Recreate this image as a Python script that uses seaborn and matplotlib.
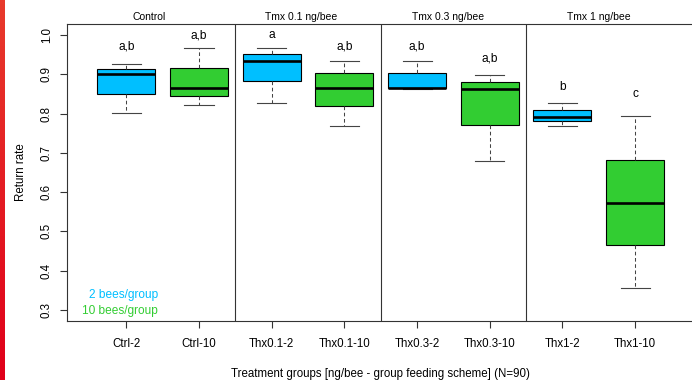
import numpy as np
import pandas as pd
import seaborn as sns
import matplotlib.pyplot as plt
from matplotlib.colors import LinearSegmentedColormap

# five-number summaries (return rate)
groups = ['Ctrl-2', 'Ctrl-10', 'Thx0.1-2', 'Thx0.1-10',
          'Thx0.3-2', 'Thx0.3-10', 'Thx1-2', 'Thx1-10']
whisker_low = [0.801, 0.821, 0.828, 0.768, 0.863, 0.679, 0.768, 0.356]
q1 = [0.851, 0.845, 0.882, 0.818, 0.864, 0.771, 0.781, 0.466]
median = [0.901, 0.866, 0.934, 0.866, 0.865, 0.863, 0.792, 0.572]
q3 = [0.913, 0.916, 0.951, 0.902, 0.902, 0.880, 0.809, 0.682]
whisker_high = [0.927, 0.966, 0.967, 0.934, 0.934, 0.897, 0.828, 0.793]

letters = ['a,b', 'a,b', 'a', 'a,b', 'a,b', 'a,b', 'b', 'c']
letter_y = [0.970, 0.999, 0.999, 0.970, 0.970, 0.939, 0.868, 0.850]

panels = ['Control', 'Tmx 0.1 ng/bee', 'Tmx 0.3 ng/bee', 'Tmx 1 ng/bee']
panel_x = [0.32, 2.41, 4.42, 6.5]

blue = '#00BFFF'
green = '#32CD32'
colors = [blue, green] * 4

rows = []
for g, a, b, c, d, e in zip(groups, whisker_low, q1, median, q3, whisker_high):
    for v in (a, b, c, d, e):
        rows.append({'group': g, 'rate': v})
df = pd.DataFrame(rows)

fig = plt.figure(figsize=(6.92, 3.8), dpi=100)
plt.rcParams['font.family'] = ['Liberation Sans', 'DejaVu Sans']
ax = fig.add_axes([66.7 / 692, 59 / 380, 628 / 692, 297 / 380])

sns.boxplot(data=df, x='group', y='rate', hue='group', order=groups,
            hue_order=groups, palette=colors, legend=False, width=0.8,
            whis=1.5, fliersize=0, linecolor='black', linewidth=0.8,
            saturation=1, ax=ax,
            medianprops=dict(color='black', linewidth=1.9),
            whiskerprops=dict(color='#444444', linewidth=0.75,
                              linestyle=(0, (3.5, 2.5))),
            capprops=dict(color='#444444', linewidth=0.8))

ax.set_xlim(-0.82, 7.82)
ax.set_ylim(0.272, 1.028)

for xs in (1.5, 3.5, 5.5):
    ax.axvline(xs, color='#333333', linewidth=0.8)

for i, (t, y) in enumerate(zip(letters, letter_y)):
    ax.text(i, y, t, ha='center', va='center', fontsize=8.6)

for t, x in zip(panels, panel_x):
    ax.text(x, 1.013, t, ha='center', va='baseline', fontsize=7.5,
            transform=ax.get_xaxis_transform())

ax.text(0.435, 0.338, '2 bees/group', color=blue, ha='right', va='center',
        fontsize=8.6)
ax.text(0.435, 0.298, '10 bees/group', color=green, ha='right', va='center',
        fontsize=8.6)

ax.set_yticks([0.3, 0.4, 0.5, 0.6, 0.7, 0.8, 0.9, 1.0])
ax.set_yticklabels(['0.3', '0.4', '0.5', '0.6', '0.7', '0.8', '0.9', '1.0'],
                   rotation=90, va='center')
ax.tick_params(axis='both', direction='out', length=5, width=0.8,
               color='#333333', labelsize=8.3, pad=5)
ax.tick_params(axis='x', pad=7.5)
for s in ax.spines.values():
    s.set_color('#333333')
    s.set_linewidth(0.8)

ax.set_xlabel('Treatment groups [ng/bee - group feeding scheme] (N=90)',
              fontsize=8.3, labelpad=13)
ax.set_ylabel('Return rate', fontsize=8.3, labelpad=10)

# red strip at the left edge
strip = fig.add_axes([0, 0, 5 / 692, 1])
grad = np.linspace(0, 1, 100).reshape(-1, 1)
cm = LinearSegmentedColormap.from_list('r', ['#e83a2c', '#e0001a'])
strip.imshow(grad, aspect='auto', cmap=cm)
strip.axis('off')

fig.savefig('out.png', dpi=100)
